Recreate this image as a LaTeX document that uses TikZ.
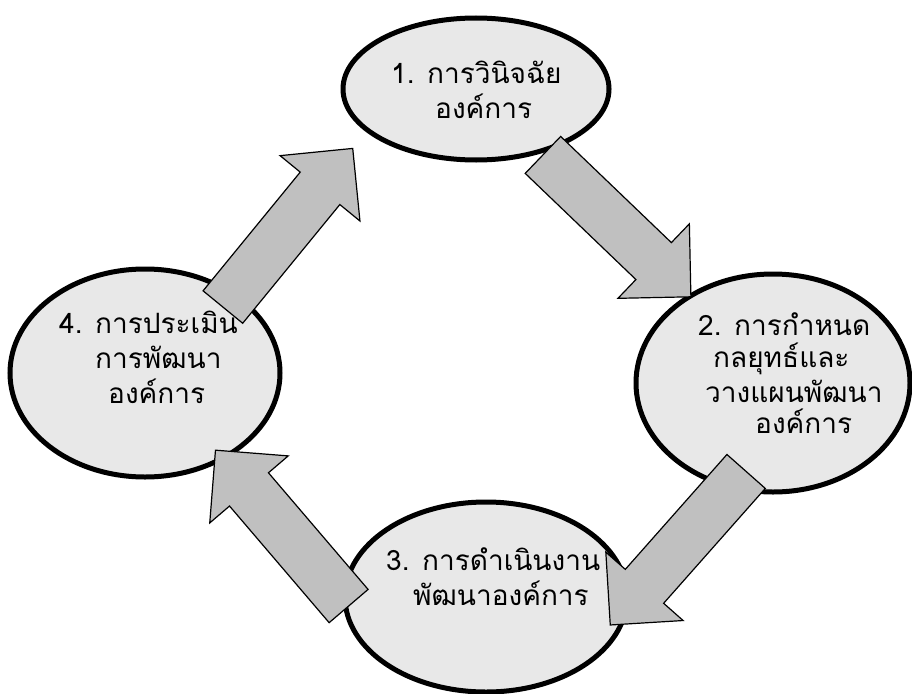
\documentclass[tikz,border=0pt]{standalone}
\usepackage{fontspec}
\newfontfamily\thaifont[Script=Thai]{Loma}
\usetikzlibrary{shapes.geometric,shapes.arrows}
\definecolor{ellgray}{HTML}{E8E8E8}
\definecolor{arrgray}{HTML}{C0C0C0}
\begin{document}
\begin{tikzpicture}[x=1pt,y=1pt,
  ell/.style={ellipse, draw=black, line width=5pt, fill=ellgray, inner sep=0pt},
  blk/.style={single arrow, draw=black, line width=1.2pt, fill=arrgray, inner xsep=0pt, inner ysep=25pt, single arrow head extend=26pt, minimum height=205pt, anchor=tail},
  lbl/.style={anchor=base west, inner sep=0pt, font=\thaifont\fontsize{28}{32}\selectfont}]
\useasboundingbox (0,0) rectangle (912,-693);
\clip (0,0) rectangle (912,-693);
% ellipses
\node[ell, minimum width=266pt, minimum height=142pt] (e1) at (476,-89) {};
\node[ell, minimum width=274pt, minimum height=218pt] (e2) at (773,-383) {};
\node[ell, minimum width=282pt, minimum height=190pt] (e3) at (486,-597) {};
\node[ell, minimum width=270pt, minimum height=208pt] (e4) at (145,-373) {};
% block arrows
\node[blk, rotate=50.7] (a41) at (222.5,-307.5) {};
\node[blk, rotate=-43.8] (a12) at (542.5,-154.5) {};
\node[blk, rotate=-131.5] (a23) at (746.5,-471) {};
\node[blk, rotate=130.5] (a34) at (349,-606.5) {};
% texts
\node[lbl] (t1a) at (391,-83) {1. การวินิจฉัย};
\node[lbl] (t1b) at (435,-118) {องค์การ};
\node[lbl] (t2a) at (698,-335) {2. การกำหนด};
\node[lbl] (t2b) at (713,-367) {กลยุทธ์และ};
\node[lbl] (t2c) at (705,-402) {วางแผนพัฒนา};
\node[lbl] (t2d) at (755,-433) {องค์การ};
\node[lbl] (t3a) at (386,-570) {3. การดำเนินงาน};
\node[lbl] (t3b) at (413,-605) {พัฒนาองค์การ};
\node[lbl] (t4a) at (59,-333) {4. การประเมิน};
\node[lbl] (t4b) at (95,-368) {การพัฒนา};
\node[lbl] (t4c) at (108,-403) {องค์การ};
\end{tikzpicture}
\end{document}
